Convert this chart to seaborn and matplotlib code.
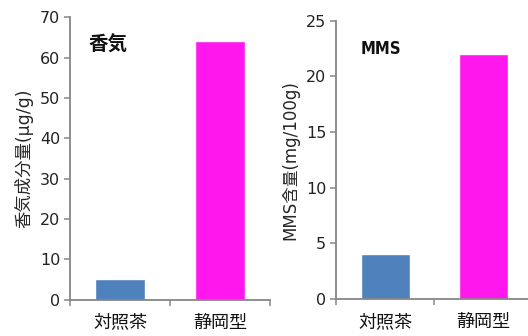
import matplotlib
matplotlib.use("Agg")
import matplotlib.pyplot as plt
import seaborn as sns
import pandas as pd
from matplotlib import font_manager

categories = ["対照茶", "静岡型"]
aroma_values = [5.1, 64.1]
mms_values = [4.05, 22.0]
bar_colors = ["#4F81BD", "#FF17EE"]
left_title = "香気"
right_title = "MMS"
left_ylabel = "香気成分量(μg/g)"
right_ylabel = "MMS含量(mg/100g)"
left_yticks = [0, 10, 20, 30, 40, 50, 60, 70]
right_yticks = [0, 5, 10, 15, 20, 25]

sns.set_style("white")
plt.rcParams["font.family"] = ["DejaVu Sans", "Noto Sans CJK JP"]

fonts = font_manager.fontManager.ttflist
names = {f.name for f in fonts}
has_condensed = any(f.name == "DejaVu Sans" and f.stretch in ("condensed", "semi-condensed", 500 - 200)
                    and f.weight in ("bold", 700) for f in fonts)
if "Liberation Sans Narrow" in names:
    mms_font, mms_stretch, mms_size = "Liberation Sans Narrow", "normal", 13
elif has_condensed:
    mms_font, mms_stretch, mms_size = "DejaVu Sans", "condensed", 12
else:
    mms_font, mms_stretch, mms_size = "DejaVu Sans", "normal", 11

fig = plt.figure(figsize=(5.28, 3.36), dpi=100)
ax1 = fig.add_axes([70/528, 1-299.7/336, 200/528, 282.4/336])
ax2 = fig.add_axes([336/528, 1-299/336, 196/528, 278.3/336])

axis_col = "#868686"

def style(ax, df, ymax, yticks, ylabel, ylsize):
    sns.barplot(data=df, x="cat", y="val", hue="cat", palette=bar_colors,
                width=0.5, ax=ax, legend=False, saturation=1)
    ax.set_xlim(-0.5, 1.5)
    ax.set_ylim(0, ymax)
    ax.set_yticks(yticks)
    ax.set_xlabel("")
    ax.set_ylabel(ylabel, fontsize=ylsize, family=["DejaVu Sans", "Noto Sans CJK JP"], labelpad=5)
    for s in ["top", "right"]:
        ax.spines[s].set_visible(False)
    for s in ["left", "bottom"]:
        ax.spines[s].set_color(axis_col)
        ax.spines[s].set_linewidth(1.3)
    ax.tick_params(axis="y", direction="out", length=4, width=1.1, color=axis_col,
                   labelsize=11.5, labelcolor="#222222", left=True, pad=3)
    ax.tick_params(axis="x", which="major", length=0, labelsize=13, labelcolor="#111111", pad=10)
    ax.set_xticks([-0.5, 0.5, 1.5], minor=True)
    ax.tick_params(axis="x", which="minor", direction="out", length=4, width=1.1,
                   color=axis_col, bottom=True)
    for lab in ax.get_xticklabels():
        lab.set_family(["Noto Sans CJK JP"])

df1 = pd.DataFrame({"cat": categories, "val": aroma_values})
df2 = pd.DataFrame({"cat": categories, "val": mms_values})
style(ax1, df1, 70, left_yticks, left_ylabel, 12.5)
style(ax2, df2, 25, right_yticks, right_ylabel, 12)

ax1.text(0.095, 0.9, left_title, transform=ax1.transAxes, fontsize=14, fontweight="bold",
         family=["Noto Sans CJK JP"], va="center", ha="left", color="#111111")
ax2.text(0.128, 0.9, right_title, transform=ax2.transAxes, fontsize=mms_size, fontweight="bold",
         family=[mms_font], fontstretch=mms_stretch, va="center", ha="left", color="#111111")

fig.savefig("out.png", dpi=100)
